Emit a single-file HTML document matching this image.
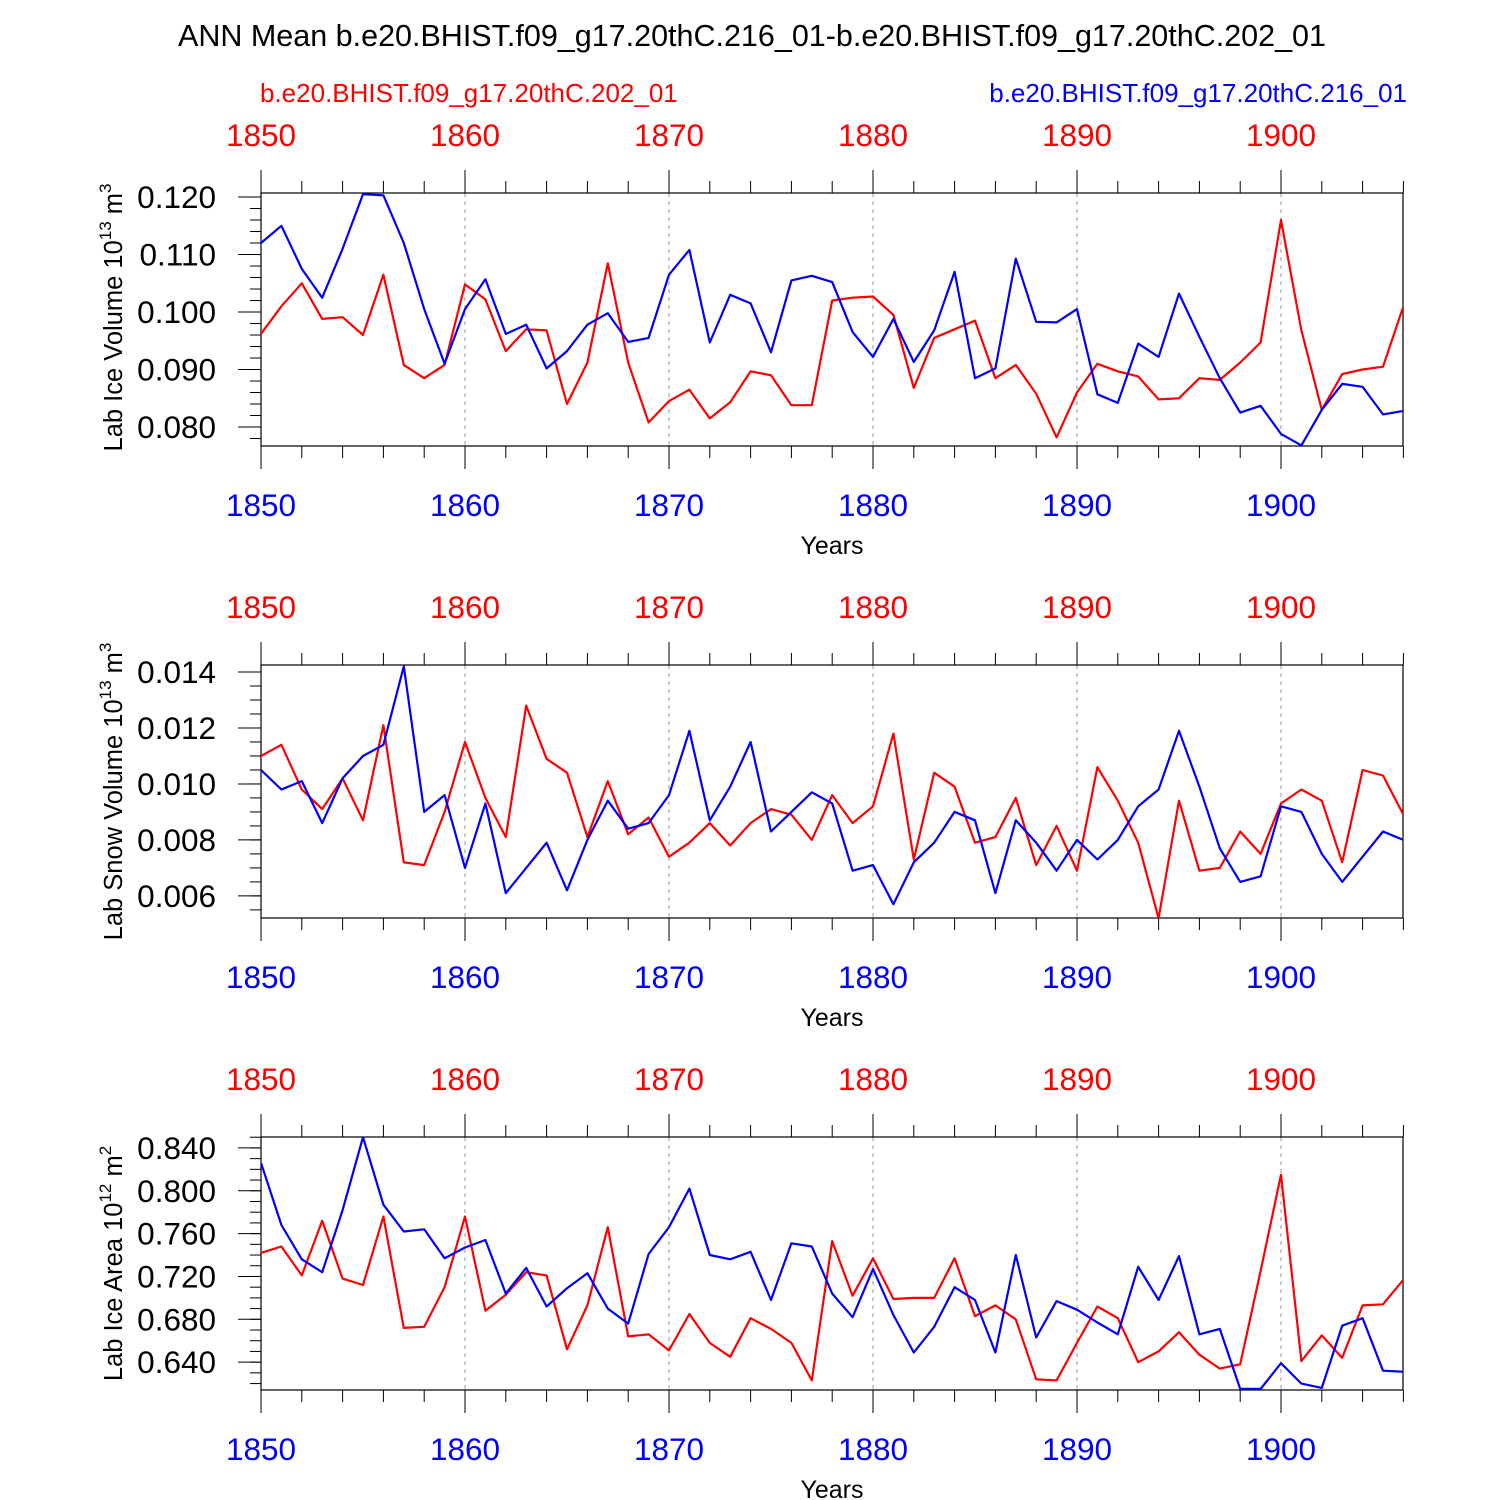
<!DOCTYPE html>
<html><head><meta charset="utf-8"><style>
body{margin:0;background:#fff}
svg{display:block;font-family:"Liberation Sans",Arial,sans-serif}
</style></head><body>
<svg id="chart" width="1500" height="1500" viewBox="0 0 1500 1500">
<text x="752" y="46" font-size="30.5" text-anchor="middle">ANN Mean b.e20.BHIST.f09_g17.20thC.216_01-b.e20.BHIST.f09_g17.20thC.202_01</text>
<text x="260" y="102" font-size="26" fill="#f00">b.e20.BHIST.f09_g17.20thC.202_01</text>
<text x="1407" y="102" font-size="26" fill="#00f" text-anchor="end">b.e20.BHIST.f09_g17.20thC.216_01</text>
</svg>
<script>
const years = [];
for (let y = 1850; y <= 1906; y++) years.push(y);
const xTickLabels = ["1850","1860","1870","1880","1890","1900"];

const iceVolBlue = [0.112,0.115,0.1075,0.1025,0.111,0.1205,0.1203,0.112,0.1005,0.091,0.1005,0.1057,0.0962,0.0978,0.0902,0.0932,0.0978,0.0998,0.0948,0.0955,0.1065,0.1108,0.0947,0.103,0.1015,0.093,0.1055,0.1063,0.1052,0.0965,0.0922,0.0988,0.0913,0.0968,0.107,0.0885,0.0902,0.1093,0.0983,0.0982,0.1005,0.0857,0.0842,0.0945,0.0922,0.1032,0.0957,0.0885,0.0825,0.0837,0.0788,0.0768,0.083,0.0875,0.087,0.0822,0.0828];
const iceVolRed = [0.0962,0.101,0.105,0.0988,0.0991,0.096,0.1065,0.0908,0.0885,0.0908,0.1048,0.1022,0.0932,0.097,0.0968,0.084,0.0912,0.1085,0.0912,0.0808,0.0845,0.0865,0.0815,0.0843,0.0897,0.089,0.0838,0.0838,0.102,0.1025,0.1027,0.0995,0.0868,0.0955,0.097,0.0985,0.0885,0.0908,0.0858,0.0782,0.086,0.091,0.0897,0.0888,0.0848,0.085,0.0885,0.0882,0.0912,0.0947,0.116,0.0968,0.083,0.0892,0.09,0.0905,0.101];
const snowBlue = [0.0105,0.0098,0.0101,0.0086,0.0102,0.011,0.0114,0.0142,0.009,0.0096,0.007,0.0093,0.0061,0.007,0.0079,0.0062,0.008,0.0094,0.0084,0.0086,0.0096,0.0119,0.0087,0.0099,0.0115,0.0083,0.009,0.0097,0.0093,0.0069,0.0071,0.0057,0.0072,0.0079,0.009,0.0087,0.0061,0.0087,0.0079,0.0069,0.008,0.0073,0.008,0.0092,0.0098,0.0119,0.0099,0.0077,0.0065,0.0067,0.0092,0.009,0.0075,0.0065,0.0074,0.0083,0.008];
const snowRed = [0.011,0.0114,0.0098,0.0091,0.0102,0.0087,0.0121,0.0072,0.0071,0.009,0.0115,0.0095,0.0081,0.0128,0.0109,0.0104,0.0081,0.0101,0.0082,0.0088,0.0074,0.0079,0.0086,0.0078,0.0086,0.0091,0.0089,0.008,0.0096,0.0086,0.0092,0.0118,0.0073,0.0104,0.0099,0.0079,0.0081,0.0095,0.0071,0.0085,0.0069,0.0106,0.0094,0.0079,0.0052,0.0094,0.0069,0.007,0.0083,0.0075,0.0093,0.0098,0.0094,0.0072,0.0105,0.0103,0.0089];
const areaBlue = [0.826,0.768,0.736,0.724,0.782,0.85,0.787,0.762,0.764,0.737,0.747,0.754,0.704,0.728,0.692,0.709,0.723,0.69,0.676,0.741,0.766,0.802,0.74,0.736,0.743,0.698,0.751,0.748,0.704,0.682,0.727,0.684,0.649,0.673,0.71,0.698,0.649,0.74,0.663,0.697,0.689,0.677,0.666,0.729,0.698,0.739,0.666,0.671,0.615,0.615,0.639,0.62,0.616,0.674,0.681,0.632,0.631];
const areaRed = [0.742,0.748,0.721,0.772,0.718,0.712,0.776,0.672,0.673,0.71,0.776,0.688,0.703,0.724,0.721,0.652,0.693,0.766,0.664,0.666,0.651,0.685,0.658,0.645,0.681,0.671,0.658,0.623,0.753,0.702,0.737,0.699,0.7,0.7,0.737,0.683,0.693,0.68,0.624,0.623,0.658,0.692,0.681,0.64,0.65,0.668,0.647,0.634,0.638,0.725,0.815,0.641,0.665,0.644,0.693,0.694,0.717];

const iceVolTicks = ["0.080","0.090","0.100","0.110","0.120"];
const snowTicks = ["0.006","0.008","0.010","0.012","0.014"];
const areaTicks = ["0.640","0.680","0.720","0.760","0.800","0.840"];

const NS = "http://www.w3.org/2000/svg";
const svg = document.getElementById("chart");
function mk(tag, attrs, parent) {
  const e = document.createElementNS(NS, tag);
  for (const k in attrs) e.setAttribute(k, attrs[k]);
  (parent || svg).appendChild(e);
  return e;
}
const X0 = 261, X1 = 1403, Y0yr = 1850, pxPerYr = 20.4;
const xScale = yr => X0 + (yr - Y0yr) * pxPerYr;

function panel(cfg) {
  const g = mk("g", {});
  
  
  const top = cfg.top, bot = cfg.top + 253;
  const yScale = v => top + (cfg.vmax - v) / (cfg.vmax - cfg.vmin) * (bot - top);
  for (let yr = 1860; yr <= 1900; yr += 10) {
    const l = mk("line", {x1: xScale(yr), x2: xScale(yr), y1: top, y2: bot, stroke: "#999", "stroke-width": 1, "stroke-dasharray": "4,4"}, g);
    
    
  }
  for (let yr = 1850; yr <= 1906; yr += 2) {
    const major = (yr % 10 === 0);
    const len = major ? 23 : 12;
    const x = xScale(yr);
    mk("line", {x1: x, x2: x, y1: top - len, y2: top, stroke: "#000", "stroke-width": 1}, g);
    mk("line", {x1: x, x2: x, y1: bot, y2: bot + len, stroke: "#000", "stroke-width": 1}, g);
  }
  xTickLabels.forEach(lbl => {
    const x = xScale(+lbl);
    const t1 = mk("text", {x: x, y: top - 47, "font-size": 31.5, fill: "#f00", "text-anchor": "middle"}, g);
    t1.textContent = lbl;
    
    
    const t2 = mk("text", {x: x, y: bot + 70, "font-size": 31.5, fill: "#00f", "text-anchor": "middle"}, g);
    t2.textContent = lbl;
    
    
  });
  const xt = mk("text", {x: 832, y: bot + 108, "font-size": 25, "text-anchor": "middle"}, g);
  xt.textContent = "Years";
  
  
  for (let v = cfg.minorStart; v <= cfg.vmax + 1e-9; v += cfg.minorStep) {
    if (v < cfg.vmin - 1e-9) continue;
    const y = yScale(v);
    mk("line", {x1: X0 - 11, x2: X0, y1: y, y2: y, stroke: "#000", "stroke-width": 1}, g);
  }
  cfg.ticks.forEach(lbl => {
    const y = yScale(+lbl);
    mk("line", {x1: X0 - 23, x2: X0, y1: y, y2: y, stroke: "#000", "stroke-width": 1}, g);
    const t = mk("text", {x: 216, y: y + 11, "font-size": 31.5, "text-anchor": "end"}, g);
    t.textContent = lbl;
    
    
  });
  mk("line", {x1: X0, x2: X0, y1: top - 23, y2: bot + 23, stroke: "#000", "stroke-width": 1}, g);
  const box = mk("rect", {x: X0, y: top, width: X1 - X0, height: bot - top, fill: "none", stroke: "#000", "stroke-width": 1.2}, g);
  
  
  const cy = (top + bot) / 2 + cfg.titleShift;
  const yt = mk("text", {x: 0, y: 0, "font-size": 25.5, "text-anchor": "middle", transform: `translate(122,${cy}) rotate(-90)`}, g);
  yt.innerHTML = cfg.title + ' 10<tspan dy="-11" font-size="17">' + cfg.exp + '</tspan><tspan dy="11"> m</tspan><tspan dy="-11" font-size="17">' + cfg.unitExp + '</tspan>';
  
  
  const clip = mk("clipPath", {id: "c" + cfg.top}, g);
  mk("rect", {x: X0, y: top, width: X1 - X0, height: bot - top}, clip);
  [[cfg.red, "#f00", "red"], [cfg.blue, "#00f", "blue"]].forEach(([arr, col, nm]) => {
    const pts = arr.map((v, i) => xScale(years[i]).toFixed(1) + "," + yScale(v).toFixed(1)).join(" ");
    const pl = mk("polyline", {points: pts, fill: "none", stroke: col, "stroke-width": 2.2, "stroke-linejoin": "round", "clip-path": `url(#c${cfg.top})`}, g);
    
    
  });
}

panel({name: "panel-ice-volume", top: 193, vmin: 0.0767, vmax: 0.1207, ticks: iceVolTicks, minorStart: 0.076, minorStep: 0.002, title: "Lab Ice Volume", exp: "13", unitExp: "3", red: iceVolRed, blue: iceVolBlue, titleShift: -2});
panel({name: "panel-snow-volume", top: 665, vmin: 0.00521, vmax: 0.01425, ticks: snowTicks, minorStart: 0.005, minorStep: 0.0005, title: "Lab Snow Volume", exp: "13", unitExp: "3", red: snowRed, blue: snowBlue, titleShift: 0});
panel({name: "panel-ice-area", top: 1137, vmin: 0.614, vmax: 0.8502, ticks: areaTicks, minorStart: 0.62, minorStep: 0.01, title: "Lab Ice Area", exp: "12", unitExp: "2", red: areaRed, blue: areaBlue, titleShift: 0});
</script>
</body></html>
